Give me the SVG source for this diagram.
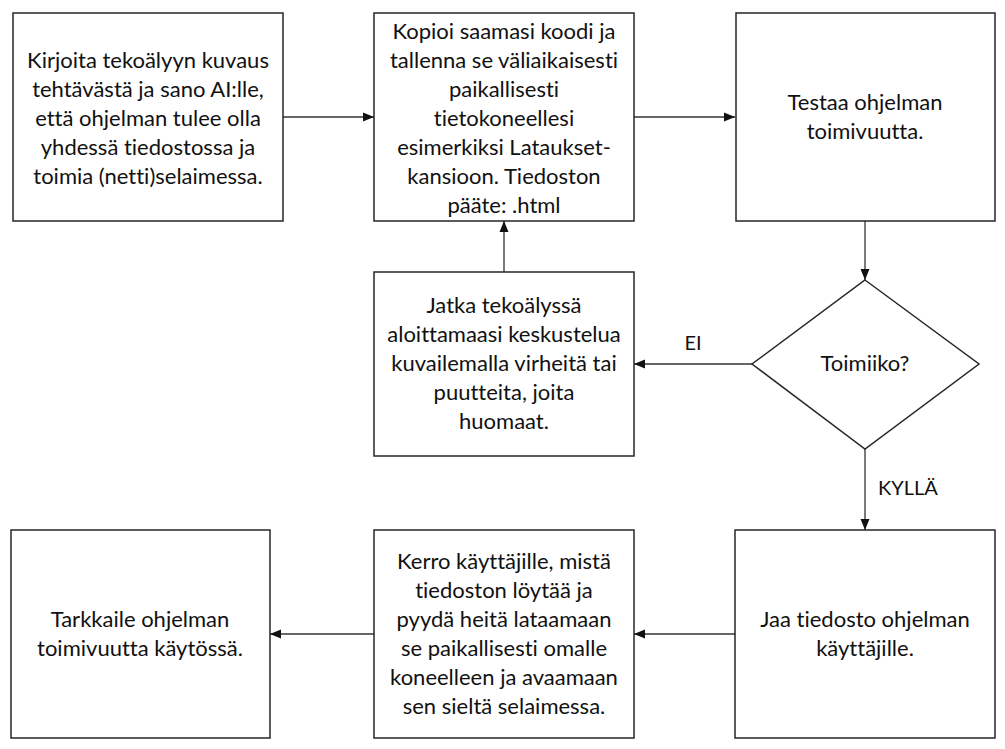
<svg xmlns="http://www.w3.org/2000/svg" width="1005" height="749" viewBox="0 0 1005 749">
<defs>
<style>
.box{fill:#fff;stroke:#262626;stroke-width:1.5}
.t{font-family:Lato,"Liberation Sans",sans-serif;font-size:22px;fill:#111;text-anchor:middle;font-variant-ligatures:none}
.lbl{font-family:Lato,"Liberation Sans",sans-serif;font-size:20px;fill:#111;font-variant-ligatures:none}
.c{fill:none;stroke:#333;stroke-width:1.3;marker-end:url(#ah)}
</style>
<marker id="ah" markerUnits="userSpaceOnUse" markerWidth="12" markerHeight="10" refX="11" refY="5" orient="auto">
<path d="M0,0.5 L11,5 L0,9.5 z" fill="#111"/>
</marker>
</defs>
<rect width="1005" height="749" fill="#fff"/>
<g id="connectors">
<line class="c" x1="283" y1="117" x2="374" y2="117"/>
<line class="c" x1="634" y1="117" x2="735" y2="117"/>
<line class="c" x1="865" y1="221" x2="865" y2="280"/>
<line class="c" x1="752" y1="364" x2="634" y2="364"/>
<line class="c" x1="504" y1="272" x2="504" y2="221"/>
<line class="c" x1="865" y1="449" x2="865" y2="530"/>
<line class="c" x1="735" y1="634" x2="634" y2="634"/>
<line class="c" x1="374" y1="634" x2="270" y2="634"/>
<text class="lbl" x="693" y="350" text-anchor="middle">EI</text>
<text class="lbl" x="878" y="495">KYLLÄ</text>
</g>
<g id="n1">
<rect class="box" x="13" y="13" width="270" height="208"/>
<text class="t"><tspan x="148" y="68">Kirjoita tekoälyyn kuvaus</tspan><tspan x="148" y="97">tehtävästä ja sano AI:lle,</tspan><tspan x="148" y="126">että ohjelman tulee olla</tspan><tspan x="148" y="155">yhdessä tiedostossa ja</tspan><tspan x="148" y="184">toimia (netti)selaimessa.</tspan></text>
</g>
<g id="n2">
<rect class="box" x="374" y="13" width="260" height="208"/>
<text class="t"><tspan x="504" y="39">Kopioi saamasi koodi ja</tspan><tspan x="504" y="68">tallenna se väliaikaisesti</tspan><tspan x="504" y="97">paikallisesti</tspan><tspan x="504" y="126">tietokoneellesi</tspan><tspan x="504" y="155">esimerkiksi Lataukset-</tspan><tspan x="504" y="184">kansioon. Tiedoston</tspan><tspan x="504" y="213">pääte: .html</tspan></text>
</g>
<g id="n3">
<rect class="box" x="736" y="13" width="259" height="208"/>
<text class="t"><tspan x="865" y="110">Testaa ohjelman</tspan><tspan x="865" y="139">toimivuutta.</tspan></text>
</g>
<g id="n4">
<polygon class="box" points="865,280 979,364 865,449 752,364"/>
<text class="t" x="865" y="371">Toimiiko?</text>
</g>
<g id="n5">
<rect class="box" x="374" y="272" width="260" height="184"/>
<text class="t"><tspan x="504" y="313">Jatka tekoälyssä</tspan><tspan x="504" y="342">aloittamaasi keskustelua</tspan><tspan x="504" y="371">kuvailemalla virheitä tai</tspan><tspan x="504" y="400">puutteita, joita</tspan><tspan x="504" y="429">huomaat.</tspan></text>
</g>
<g id="n6">
<rect class="box" x="11" y="530" width="259" height="208"/>
<text class="t"><tspan x="140" y="627">Tarkkaile ohjelman</tspan><tspan x="140" y="656">toimivuutta käytössä.</tspan></text>
</g>
<g id="n7">
<rect class="box" x="374" y="530" width="260" height="208"/>
<text class="t"><tspan x="504" y="569">Kerro käyttäjille, mistä</tspan><tspan x="504" y="598">tiedoston löytää ja</tspan><tspan x="504" y="627">pyydä heitä lataamaan</tspan><tspan x="504" y="656">se paikallisesti omalle</tspan><tspan x="504" y="685">koneelleen ja avaamaan</tspan><tspan x="504" y="714">sen sieltä selaimessa.</tspan></text>
</g>
<g id="n8">
<rect class="box" x="735" y="530" width="260" height="208"/>
<text class="t"><tspan x="865" y="627">Jaa tiedosto ohjelman</tspan><tspan x="865" y="656">käyttäjille.</tspan></text>
</g>
</svg>
